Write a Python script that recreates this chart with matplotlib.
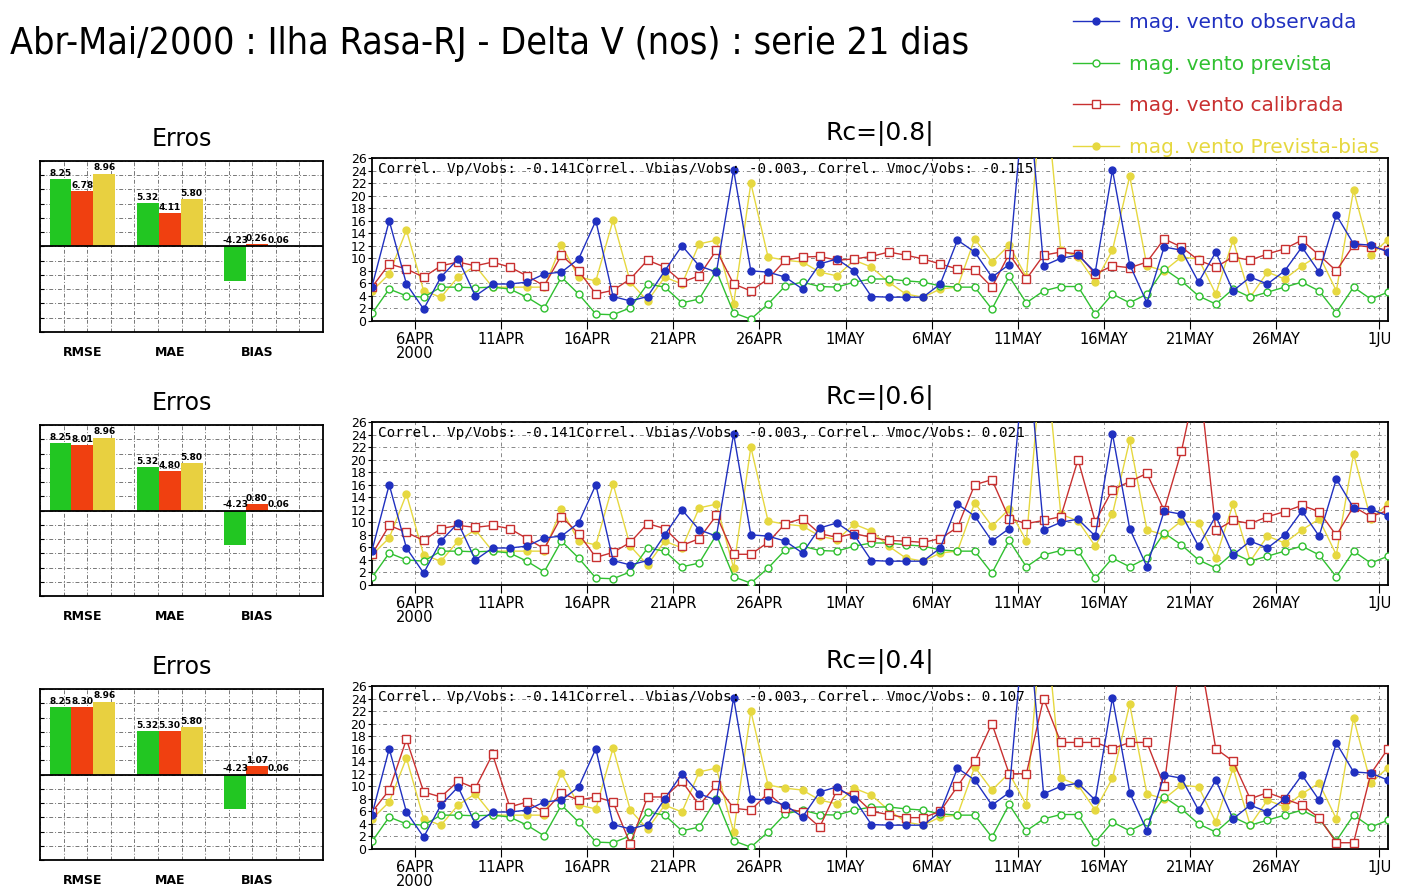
import numpy as np
import pandas as pd
import matplotlib
matplotlib.use("Agg")
import matplotlib.pyplot as plt

W, H = 1401, 888

# daily values, 3 APR 12Z .. 1 JUN 12Z
dates = pd.date_range("2000-04-03 12:00", periods=60, freq="D")

obs = [5.5, 16.0, 5.9, 1.9, 7.0, 9.9, 4.0, 5.9, 5.9, 6.2,
       7.5, 7.8, 9.9, 16.0, 3.9, 3.2, 3.9, 8.0, 12.0, 8.8,
       7.8, 24.1, 8.0, 7.8, 7.0, 5.1, 9.1, 9.9, 8.0, 3.9,
       3.8, 3.8, 3.8, 5.9, 12.9, 11.0, 7.0, 9.0, 40.0, 8.8,
       10.0, 10.5, 7.8, 24.1, 9.0, 2.9, 11.8, 11.3, 6.2, 11.0,
       4.8, 7.0, 5.9, 8.0, 11.8, 7.8, 16.9, 12.3, 12.1, 11.0]

prev = [1.2, 5.1, 4.0, 3.8, 5.4, 5.4, 5.3, 5.4, 5.1, 3.8,
        2.1, 7.0, 4.3, 1.1, 1.0, 2.1, 5.9, 5.4, 2.9, 3.5,
        8.0, 1.3, 0.3, 2.7, 5.6, 6.2, 5.5, 5.4, 6.2, 6.7,
        6.7, 6.4, 6.2, 5.6, 5.4, 5.4, 1.9, 7.1, 2.9, 4.8,
        5.5, 5.5, 1.1, 4.3, 2.9, 4.3, 8.3, 6.4, 4.0, 2.7,
        5.1, 3.8, 4.6, 5.4, 6.2, 4.8, 1.3, 5.4, 3.5, 4.6]

prev_bias = [4.8, 7.5, 14.5, 4.8, 3.8, 7.0, 8.8, 5.4, 5.4, 5.4,
             5.4, 12.1, 7.0, 6.4, 16.1, 6.2, 3.2, 7.0, 5.9, 12.3,
             12.9, 2.7, 22.0, 10.2, 9.7, 9.4, 7.8, 7.2, 9.7, 8.6,
             6.2, 4.3, 3.8, 5.1, 5.4, 13.1, 9.4, 12.1, 7.0, 40.0,
             11.3, 10.2, 6.2, 11.3, 23.1, 8.8, 8.0, 10.2, 9.9, 4.3,
             12.9, 3.8, 7.8, 6.7, 8.8, 10.5, 4.8, 20.9, 10.5, 13.0]

calib_08 = [5.4, 9.1, 8.3, 7.0, 8.8, 9.4, 8.8, 9.4, 8.6, 7.2,
            5.6, 10.5, 8.0, 4.3, 4.9, 6.7, 9.7, 8.6, 6.2, 7.2,
            11.3, 5.9, 4.8, 6.7, 9.7, 10.2, 10.3, 9.7, 9.9, 10.3,
            11.0, 10.5, 9.9, 9.1, 8.3, 8.2, 5.4, 10.7, 6.7, 10.5,
            11.0, 10.7, 7.5, 8.8, 8.5, 9.4, 13.1, 11.8, 9.7, 8.6,
            10.2, 9.7, 10.7, 11.5, 12.9, 10.5, 8.0, 12.1, 11.8, 11.3]

calib_06 = [4.9, 9.5, 8.4, 7.1, 9.0, 9.5, 9.2, 9.5, 9.0, 7.4,
            5.8, 10.9, 8.2, 4.4, 5.2, 6.8, 9.8, 9.0, 6.3, 7.4,
            11.1, 4.9, 4.9, 6.8, 9.8, 10.6, 8.2, 7.6, 8.2, 7.6,
            7.1, 7.0, 6.8, 7.4, 9.2, 16.0, 16.8, 10.6, 9.8, 10.3,
            10.9, 20.0, 10.1, 15.2, 16.5, 17.8, 11.9, 21.3, 34.0, 8.7,
            10.3, 9.8, 10.9, 11.7, 12.7, 11.7, 7.9, 12.5, 10.9, 11.9]

calib_04 = [5.9, 9.4, 17.5, 9.1, 8.3, 10.8, 9.7, 15.1, 6.7, 7.5,
            5.9, 8.9, 7.8, 8.3, 7.5, 0.8, 8.3, 8.3, 10.8, 7.0,
            10.2, 6.5, 6.2, 8.9, 6.5, 5.9, 3.5, 9.4, 8.6, 6.0,
            5.5, 5.0, 5.0, 6.0, 10.0, 14.0, 20.0, 12.0, 12.0, 24.0,
            17.0, 17.0, 17.0, 16.0, 17.0, 17.0, 10.0, 32.0, 32.0, 16.0,
            14.0, 8.0, 9.0, 8.0, 7.0, 5.0, 1.0, 1.0, 12.0, 16.0]

calib_sets = [calib_08, calib_06, calib_04]
rc_titles = ["Rc=|0.8|", "Rc=|0.6|", "Rc=|0.4|"]
vmoc_correl = ["-0.115", "0.021", "0.107"]

tick_dates = pd.to_datetime(["2000-04-06", "2000-04-11", "2000-04-16", "2000-04-21",
                             "2000-04-26", "2000-05-01", "2000-05-06", "2000-05-11",
                             "2000-05-16", "2000-05-21", "2000-05-26", "2000-06-01"])
tick_labels = ["6APR\n2000", "11APR", "16APR", "21APR", "26APR", "1MAY",
               "6MAY", "11MAY", "16MAY", "21MAY", "26MAY", "1JU"]

# error bars: RMSE, MAE, BIAS
err_names = ["RMSE", "MAE", "BIAS"]
err_prev = [8.25, 5.32, -4.23]
err_calib = [[6.78, 4.11, 0.26],
             [8.01, 4.80, 0.80],
             [8.30, 5.30, 1.07]]
err_bias = [8.96, 5.80, 0.06]

c_obs = "#2030c0"
c_prev = "#30c030"
c_cal = "#c83030"
c_yel = "#e6d840"

fig = plt.figure(figsize=(W / 100, H / 100), dpi=100)
fig.patch.set_facecolor("white")


def px_axes(x0, y0, x1, y1):
    return fig.add_axes([x0 / W, 1 - y1 / H, (x1 - x0) / W, (y1 - y0) / H])


fig.text(10 / W, 1 - 44 / H, "Abr-Mai/2000 : Ilha Rasa-RJ - Delta V (nos) : serie 21 dias",
         fontsize=27, ha="left", va="center", fontstretch="condensed")

centers = np.array([1.8, 5.5, 9.2])
bw = 0.93
dash = (0, (4, 2, 1, 2))

handles = []
for k in range(3):
    off = 264 * k

    # --- bar chart of errors ---
    axb = px_axes(40, 161 + off, 323, 332 + off)
    vals = [err_prev, err_calib[k], err_bias]
    cols = ["#22c622", "#f04010", "#e8d040"]
    for j in range(3):
        xs = centers + (j - 1) * bw
        axb.bar(xs, vals[j], width=bw, color=cols[j], zorder=3)
        for x, v in zip(xs, vals[j]):
            axb.text(x, max(v, 0) + 0.15, f"{v:.2f}", ha="center", va="bottom",
                     fontsize=6.5, fontweight="bold", zorder=4)
    axb.axhline(0, color="black", lw=1.3, zorder=4)
    axb.set_xlim(0, 12)
    axb.set_ylim(-10.5, 10.5)
    axb.set_xticks(np.arange(0, 13), minor=True)
    axb.set_xticks(centers, labels=err_names)
    axb.set_yticks(np.arange(-10.5, 10.6, 1.75), labels=[])
    axb.tick_params(axis="x", which="major", length=0, pad=10, labelsize=9)
    axb.tick_params(axis="x", which="minor", length=0)
    axb.tick_params(axis="y", length=3, direction="in")
    axb.grid(True, which="minor", axis="x", ls=dash, color="#777777", lw=0.7)
    axb.grid(True, which="major", axis="y", ls=dash, color="#777777", lw=0.7)
    for lbl in axb.get_xticklabels():
        lbl.set_fontweight("bold")
    for s in axb.spines.values():
        s.set_linewidth(1.3)
    axb.set_title("Erros", fontsize=17, pad=11)

    # --- time series ---
    ax = px_axes(372, 158 + off, 1388, 321 + off)
    ax.plot(dates, prev_bias, color=c_yel, marker="o", ms=5, lw=1, zorder=3)
    ax.plot(dates, prev, color=c_prev, marker="o", mfc="white", ms=5, lw=1, zorder=4)
    ax.plot(dates, calib_sets[k], color=c_cal, marker="s", mfc="white", ms=6, lw=1, zorder=5)
    ax.plot(dates, obs, color=c_obs, marker="o", ms=5, lw=1, zorder=6)
    ax.set_xlim(dates[0], dates[-1])
    ax.set_ylim(0, 26)
    ax.set_yticks(np.arange(0, 27, 2))
    ax.set_xticks(tick_dates, labels=tick_labels)
    ax.tick_params(axis="x", labelsize=10.5, length=6, pad=2)
    ax.tick_params(axis="y", labelsize=9, length=3, pad=1)
    for lbl in ax.get_xticklabels():
        lbl.set_linespacing(0.9)
    ax.grid(True, ls=(0, (4, 3, 1, 3)), color="#888888", lw=0.7)
    for s in ax.spines.values():
        s.set_linewidth(1.3)
    ax.text(0.006, 0.975,
            "Correl. Vp/Vobs: -0.141Correl. Vbias/Vobs: -0.003, Correl. Vmoc/Vobs: "
            + vmoc_correl[k],
            transform=ax.transAxes, fontsize=10.3, family="DejaVu Sans Mono",
            ha="left", va="top", zorder=7)
    ax.set_title(rc_titles[k], fontsize=18, pad=13)
    if k == 0:
        handles = ax.get_lines()

# legend: observada, prevista, calibrada, prevista-bias
leg = fig.legend([handles[3], handles[1], handles[2], handles[0]],
                 ["mag. vento observada", "mag. vento prevista",
                  "mag. vento calibrada", "mag. vento Prevista-bias"],
                 loc="upper left", bbox_to_anchor=(1073 / W, 1 - 13 / H),
                 frameon=False, fontsize=14.5, labelspacing=1.12, handlelength=2.3,
                 handletextpad=0.5, borderpad=0, borderaxespad=0)
for t, c in zip(leg.get_texts(), [c_obs, c_prev, c_cal, c_yel]):
    t.set_color(c)

fig.savefig("out.png", dpi=100)
